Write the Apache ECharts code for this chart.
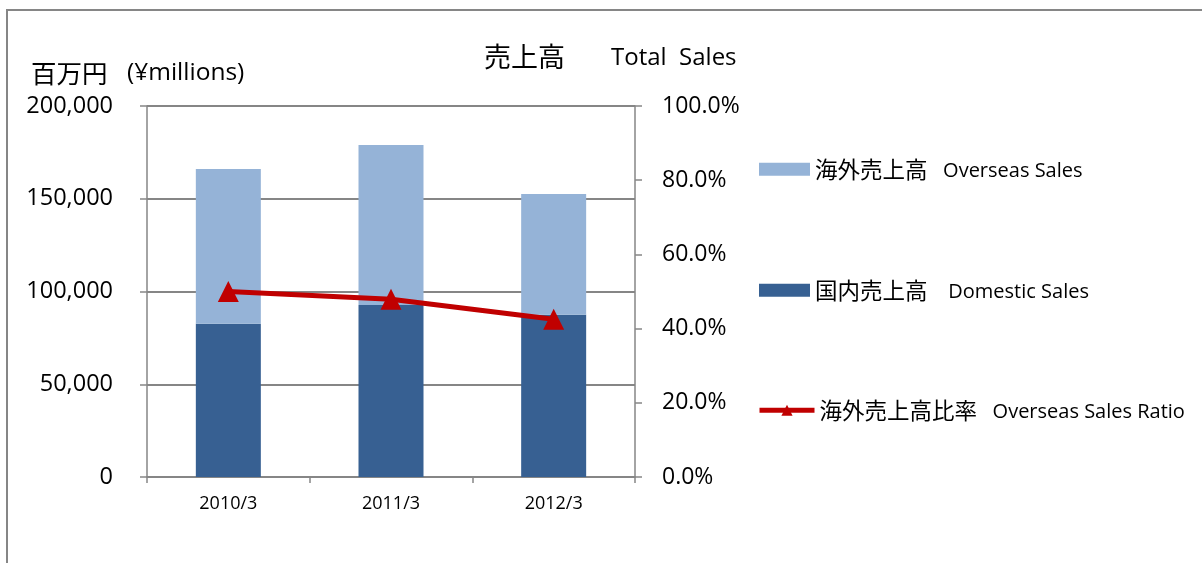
<!DOCTYPE html>
<html>
<head>
<meta charset="utf-8">
<script src="https://cdn.jsdelivr.net/npm/echarts@6/dist/echarts.min.js"></script>
<style>
  html, body { margin: 0; padding: 0; background: #fff; }
  #chart { width: 1202px; height: 563px; }
</style>
</head>
<body>
<div id="chart"></div>
<script>
// 売上高データ（百万円）
const categories = ['2010/3', '2011/3', '2012/3']
const domesticSales = [82600, 92700, 87500]
const overseasSales = [83400, 86300, 65100]
const overseasRatio = [50.0, 47.9, 42.5]

const FONT = '"Open Sans", "Noto Sans CJK JP", sans-serif'
const CJK = '"Noto Sans CJK JP", sans-serif'
const GRAY = '#868686'

const chart = echarts.init(document.getElementById('chart'))

// 凡例：日本語と英語でサイズを分ける
const legendText = {
  color: '#000',
  rich: {
    a: { fontFamily: CJK, fontSize: 22.5, color: '#000', verticalAlign: 'middle' },
    b: { fontFamily: FONT, fontSize: 20, color: '#000', verticalAlign: 'middle', padding: [4, 0, 0, 0] }
  }
}
const legendFormatter = name => {
  const m = name.match(/^(\S+)(\s+.*)$/)
  return m ? `{a|${m[1]}}{b|${m[2]}}` : name
}

chart.setOption({
  backgroundColor: '#fff',
  animation: false,
  textStyle: { fontFamily: FONT },
  graphic: [
    {
      type: 'rect',
      shape: { x: 7, y: 10, width: 1200, height: 570 },
      style: { fill: 'none', stroke: GRAY, lineWidth: 2 },
      silent: true
    },
    {
      type: 'text', x: 484, y: 57, silent: true,
      style: { text: '売上高', font: `27px ${CJK}`, fill: '#000', verticalAlign: 'middle' }
    },
    {
      type: 'text', x: 611, y: 58, silent: true,
      style: { text: 'Total  Sales', font: `24px ${FONT}`, fill: '#000', verticalAlign: 'middle' }
    },
    {
      type: 'text', x: 31, y: 73, silent: true,
      style: { text: '百万円', font: `25.5px ${CJK}`, fill: '#000', verticalAlign: 'middle' }
    },
    {
      type: 'text', x: 127, y: 73, silent: true,
      style: { text: '(¥millions)', font: `24.5px ${FONT}`, fill: '#000', verticalAlign: 'middle' }
    }
  ],
  legend: [
    {
      data: ['海外売上高   Overseas Sales'],
      left: 754, top: 153, itemWidth: 51, itemHeight: 13, icon: 'rect',
      textStyle: legendText, formatter: legendFormatter, selectedMode: false
    },
    {
      data: ['国内売上高    Domestic Sales'],
      left: 754, top: 274, itemWidth: 51, itemHeight: 13, icon: 'rect',
      textStyle: legendText, formatter: legendFormatter, selectedMode: false
    },
    {
      data: ['海外売上高比率   Overseas Sales Ratio'],
      left: 752, top: 394, itemWidth: 55, itemHeight: 14,
      lineStyle: { width: 5 },
      textStyle: legendText, formatter: legendFormatter, selectedMode: false
    }
  ],
  grid: {
    left: 147,
    right: 567,
    top: 106,
    bottom: 86
  },
  xAxis: {
    type: 'category',
    data: categories,
    axisLine: { lineStyle: { color: GRAY, width: 1.5 } },
    axisTick: { show: true, length: 6, lineStyle: { color: GRAY, width: 1.5 } },
    axisLabel: { color: '#000', fontSize: 18, fontFamily: FONT, margin: 18 }
  },
  yAxis: [
    {
      type: 'value',
      min: 0,
      max: 200000,
      interval: 50000,
      position: 'left',
      axisLine: { show: true, lineStyle: { color: GRAY, width: 1.5 } },
      axisTick: { show: true, length: 7, lineStyle: { color: GRAY, width: 1.5 } },
      axisLabel: {
        color: '#000',
        fontSize: 23.5,
        fontFamily: FONT,
        margin: 34,
        formatter: v => v.toLocaleString('en-US')
      },
      splitLine: { show: true, lineStyle: { color: GRAY, width: 2 } }
    },
    {
      type: 'value',
      min: 0,
      max: 100,
      interval: 20,
      position: 'right',
      axisLine: { show: true, lineStyle: { color: GRAY, width: 1.5 } },
      axisTick: { show: true, length: 7, lineStyle: { color: GRAY, width: 1.5 } },
      axisLabel: {
        color: '#000',
        fontSize: 23,
        fontFamily: FONT,
        margin: 27,
        formatter: v => v.toFixed(1) + '%'
      },
      splitLine: { show: false }
    }
  ],
  series: [
    {
      name: '国内売上高    Domestic Sales',
      type: 'bar',
      stack: 'sales',
      barWidth: 65,
      data: domesticSales,
      itemStyle: { color: '#376092' }
    },
    {
      name: '海外売上高   Overseas Sales',
      type: 'bar',
      stack: 'sales',
      barWidth: 65,
      data: overseasSales,
      itemStyle: { color: '#95B3D7' }
    },
    {
      name: '海外売上高比率   Overseas Sales Ratio',
      type: 'line',
      yAxisIndex: 1,
      data: overseasRatio,
      symbol: 'triangle',
      symbolSize: 21,
      lineStyle: { color: '#C00000', width: 5 },
      itemStyle: { color: '#C00000' }
    }
  ]
})
</script>
</body>
</html>
